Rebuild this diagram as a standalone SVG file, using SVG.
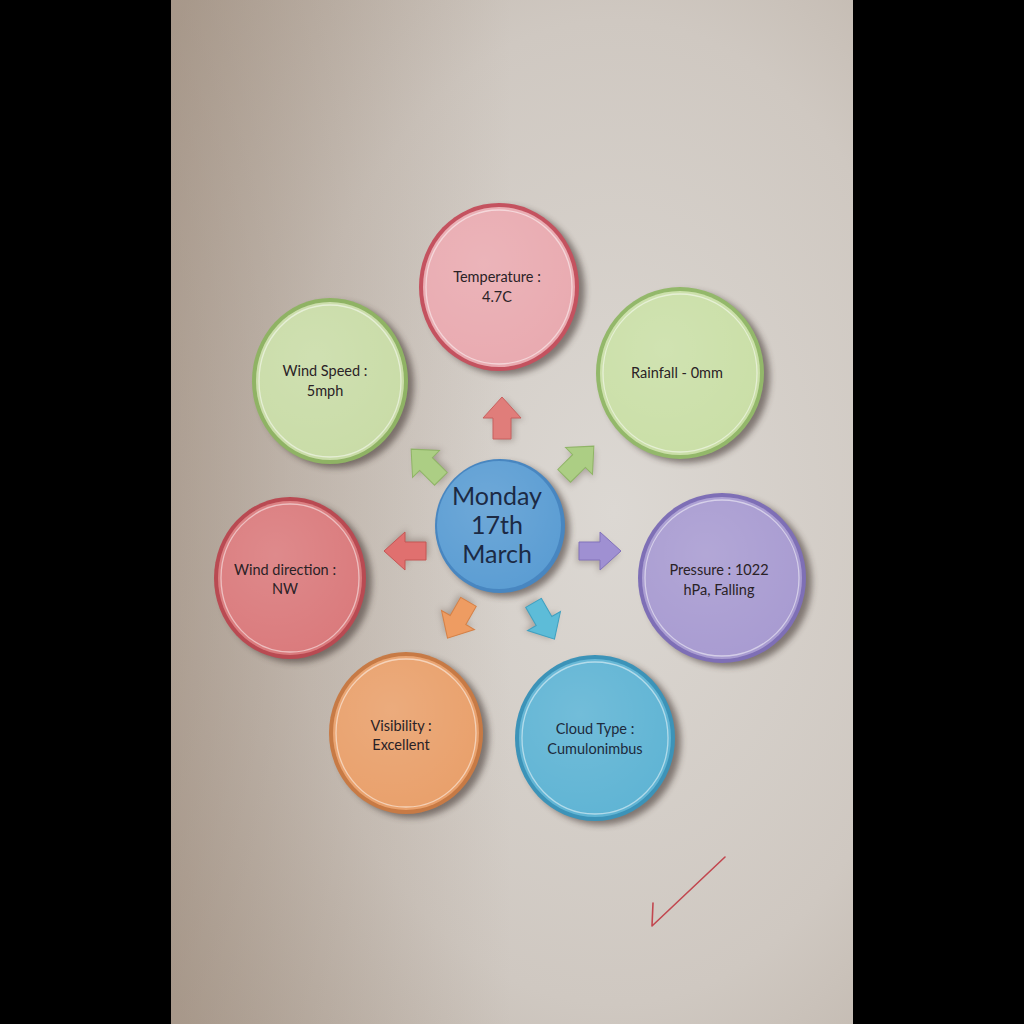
<svg xmlns="http://www.w3.org/2000/svg" width="1024" height="1024" viewBox="0 0 1024 1024">
  <defs>
    <radialGradient id="paper" cx="0.65" cy="0.5" r="0.8">
      <stop offset="0" stop-color="#dcd8d3"/>
      <stop offset="0.6" stop-color="#cfc8c1"/>
      <stop offset="1" stop-color="#b9aea3"/>
    </radialGradient>
    <linearGradient id="leftShade" x1="0" y1="0" x2="1" y2="0">
      <stop offset="0" stop-color="#8c7664" stop-opacity="0.4"/>
      <stop offset="0.5" stop-color="#8c7664" stop-opacity="0"/>
    </linearGradient>
    <filter id="shadow" x="-20%" y="-20%" width="140%" height="140%">
      <feGaussianBlur stdDeviation="3"/>
    </filter>
    <radialGradient id="gloss" cx="0.4" cy="0.35" r="0.7">
      <stop offset="0" stop-color="#ffffff" stop-opacity="0.12"/>
      <stop offset="1" stop-color="#ffffff" stop-opacity="0"/>
    </radialGradient>
    <path id="arrow" d="M-21,-9 L0,-9 L0,-19 L21,0 L0,19 L0,9 L-21,9 Z"/>
  </defs>
  <style>
    .lbl { font-family: Lato, "Open Sans", "Liberation Sans", sans-serif; font-size: 14.5px; fill: #2a2226; text-anchor: middle; }
    .big { font-family: Lato, "Open Sans", "Liberation Sans", sans-serif; font-size: 25px; fill: #1c2a44; text-anchor: middle; }
    .shd { fill: #3a2f2a; opacity: 0.55; filter: url(#shadow); }
    .hl { fill: none; stroke: #ffffff; stroke-opacity: 0.5; stroke-width: 1.3; }
    .sheen { fill: url(#gloss); }
    .arr-shd { fill: #5a4c44; opacity: 0.35; filter: url(#shadow); }
  </style>

  <!-- backdrop and sheet of paper -->
  <rect x="0" y="0" width="1024" height="1024" fill="#000000"/>
  <rect x="171" y="0" width="682" height="1024" fill="url(#paper)"/>
  <rect x="171" y="0" width="682" height="1024" fill="url(#leftShade)"/>

  <!-- connectors: block arrows radiating from the centre -->
  <g id="connectors">
    <g transform="translate(502,418) rotate(-90)"><use href="#arrow" class="arr-shd" transform="translate(-2,3)"/><use href="#arrow" fill="#e07d7a" stroke="#c8615f" stroke-width="1"/></g>
    <g transform="translate(579,461) rotate(-45)"><use href="#arrow" class="arr-shd" transform="translate(-2,3)"/><use href="#arrow" fill="#acce84" stroke="#8fb466" stroke-width="1"/></g>
    <g transform="translate(600,551) rotate(0)"><use href="#arrow" class="arr-shd" transform="translate(-2,3)"/><use href="#arrow" fill="#9f90d2" stroke="#8272bb" stroke-width="1"/></g>
    <g transform="translate(544,621) rotate(60)"><use href="#arrow" class="arr-shd" transform="translate(-2,3)"/><use href="#arrow" fill="#5dbcd8" stroke="#3fa0c0" stroke-width="1"/></g>
    <g transform="translate(458,620) rotate(120)"><use href="#arrow" class="arr-shd" transform="translate(-2,3)"/><use href="#arrow" fill="#ee9c62" stroke="#d58046" stroke-width="1"/></g>
    <g transform="translate(405,551) rotate(180)"><use href="#arrow" class="arr-shd" transform="translate(-2,3)"/><use href="#arrow" fill="#e0706f" stroke="#c55655" stroke-width="1"/></g>
    <g transform="translate(426,464) rotate(-135)"><use href="#arrow" class="arr-shd" transform="translate(-2,3)"/><use href="#arrow" fill="#acce84" stroke="#8fb466" stroke-width="1"/></g>
  </g>

  <!-- centre node -->
  <g id="centre">
    <ellipse class="shd" cx="505" cy="530" rx="65" ry="67"/>
    <ellipse cx="500" cy="526" rx="65" ry="67" fill="#4886c0"/>
    <ellipse cx="499" cy="525" rx="62" ry="64" fill="#5b9dd3"/>
    <ellipse class="sheen" cx="499" cy="525" rx="62" ry="64"/>
    <text class="big" x="497" y="505">Monday</text>
    <text class="big" x="497" y="534">17th</text>
    <text class="big" x="497" y="563">March</text>
  </g>

  <g id="temperature">
    <ellipse class="shd" cx="505" cy="291" rx="80" ry="84"/>
    <ellipse cx="499" cy="287" rx="80" ry="84" fill="#c4525f"/>
    <ellipse cx="499" cy="287" rx="76" ry="80" fill="#e9aab0"/>
    <ellipse class="hl" cx="499" cy="287" rx="73" ry="77"/>
    <ellipse class="sheen" cx="499" cy="287" rx="76" ry="80"/>
    <text class="lbl" x="497" y="282">Temperature  :</text>
    <text class="lbl" x="497" y="302">4.7C</text>
  </g>

  <g id="rainfall">
    <ellipse class="shd" cx="686" cy="377" rx="84" ry="86"/>
    <ellipse cx="680" cy="373" rx="84" ry="86" fill="#93b86a"/>
    <ellipse cx="680" cy="373" rx="80" ry="82" fill="#cadfa7"/>
    <ellipse class="hl" cx="680" cy="373" rx="77" ry="79"/>
    <ellipse class="sheen" cx="680" cy="373" rx="80" ry="82"/>
    <text class="lbl" x="677" y="378">Rainfall - 0mm</text>
  </g>

  <g id="wind-speed">
    <ellipse class="shd" cx="336" cy="385" rx="78" ry="83"/>
    <ellipse cx="330" cy="381" rx="78" ry="83" fill="#8fb364"/>
    <ellipse cx="330" cy="381" rx="74" ry="79" fill="#c9dca7"/>
    <ellipse class="hl" cx="330" cy="381" rx="71" ry="76"/>
    <ellipse class="sheen" cx="330" cy="381" rx="74" ry="79"/>
    <text class="lbl" x="325" y="376">Wind Speed :</text>
    <text class="lbl" x="325" y="396">5mph</text>
  </g>

  <g id="wind-direction">
    <ellipse class="shd" cx="296" cy="582" rx="76" ry="81"/>
    <ellipse cx="290" cy="578" rx="76" ry="81" fill="#b94a52"/>
    <ellipse cx="290" cy="578" rx="72" ry="77" fill="#da7a7c"/>
    <ellipse class="hl" cx="290" cy="578" rx="69" ry="74"/>
    <ellipse class="sheen" cx="290" cy="578" rx="72" ry="77"/>
    <text class="lbl" x="285" y="575">Wind direction :</text>
    <text class="lbl" x="285" y="594">NW</text>
  </g>

  <g id="pressure">
    <ellipse class="shd" cx="728" cy="582" rx="84" ry="85"/>
    <ellipse cx="722" cy="578" rx="84" ry="85" fill="#7e6fb6"/>
    <ellipse cx="722" cy="578" rx="80" ry="81" fill="#a89bd1"/>
    <ellipse class="hl" cx="722" cy="578" rx="77" ry="78"/>
    <ellipse class="sheen" cx="722" cy="578" rx="80" ry="81"/>
    <text class="lbl" x="719" y="575">Pressure : 1022</text>
    <text class="lbl" x="719" y="595">hPa, Falling</text>
  </g>

  <g id="visibility">
    <ellipse class="shd" cx="412" cy="737" rx="77" ry="81"/>
    <ellipse cx="406" cy="733" rx="77" ry="81" fill="#c77a45"/>
    <ellipse cx="406" cy="733" rx="73" ry="77" fill="#e9a06b"/>
    <ellipse class="hl" cx="406" cy="733" rx="70" ry="74"/>
    <ellipse class="sheen" cx="406" cy="733" rx="73" ry="77"/>
    <text class="lbl" x="401" y="731">Visibility :</text>
    <text class="lbl" x="401" y="750">Excellent</text>
  </g>

  <g id="cloud-type">
    <ellipse class="shd" cx="601" cy="742" rx="80" ry="83"/>
    <ellipse cx="595" cy="738" rx="80" ry="83" fill="#3c93b8"/>
    <ellipse cx="595" cy="738" rx="76" ry="79" fill="#5fb4d4"/>
    <ellipse class="hl" cx="595" cy="738" rx="73" ry="76"/>
    <ellipse class="sheen" cx="595" cy="738" rx="76" ry="79"/>
    <text class="lbl" x="595" y="734" style="fill:#1d2a3c">Cloud Type :</text>
    <text class="lbl" x="595" y="754" style="fill:#1d2a3c">Cumulonimbus</text>
  </g>

  <!-- hand-drawn tick -->
  <path d="M653,903 L652,926 L725,857" fill="none" stroke="#c2474f" stroke-width="1.6" stroke-linecap="round" stroke-linejoin="round"/>
</svg>
